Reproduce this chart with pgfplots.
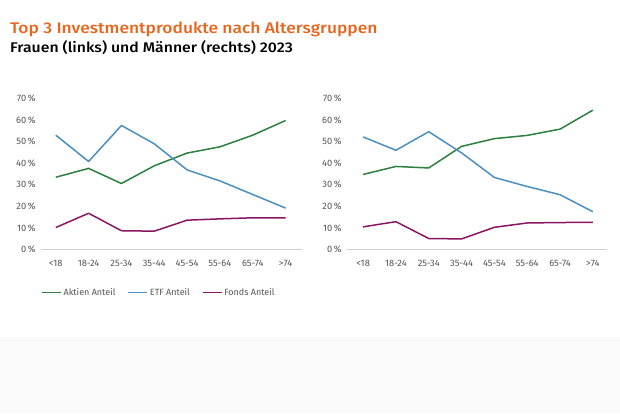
\documentclass[border=0pt]{standalone}
\usepackage{pgfplots}
\pgfplotsset{compat=1.18}
\usepackage{fontspec}
\setmainfont{Fira Sans}
\newfontfamily\titlefont{Fira Sans Medium}[FakeStretch=1.13]

\definecolor{ingorange}{HTML}{E8661D}
\definecolor{aktien}{HTML}{2E8040}
\definecolor{etf}{HTML}{4A90C0}
\definecolor{fonds}{HTML}{8A1662}
\definecolor{ticktext}{HTML}{555555}
\definecolor{band}{HTML}{FAFAFA}

\pgfplotsset{
  altersachse/.style={
    scale only axis,
    height=151pt,
    ymin=0, ymax=70,
    ytick={0,10,...,70},
    xtick={0,...,7},
    xticklabels={<18,18-24,25-34,35-44,45-54,55-64,65-74,>74},
    yticklabel={\pgfmathprintnumber{\tick}\,\%},
    /pgf/number format/assume math mode=true,
    axis x line*=bottom,
    axis y line*=left,
    y axis line style={draw=none},
    x axis line style={draw=black!18, line width=0.8pt},
    major tick length=0pt,
    tick label style={font=\fontsize{9.3}{11}\selectfont, text=ticktext},
    yticklabel style={xshift=-2pt},
    xticklabel style={yshift=-7pt},
    every axis plot/.append style={line width=1.5pt, mark=none, line join=round},
    clip=false,
  },
}

\begin{document}
\begin{tikzpicture}
\fill[white] (0pt,0pt) rectangle (620pt,413pt);
\fill[band] (0pt,0pt) rectangle (620pt,76pt);

\node[anchor=base west, inner sep=0, text=ingorange, font=\fontsize{15.4}{18}\selectfont\titlefont]
  at (10pt,379pt) {Top 3 Investmentprodukte nach Altersgruppen};
\node[anchor=base west, inner sep=0, text=black, font=\fontsize{14}{17}\selectfont\titlefont]
  at (10pt,360pt) {Frauen (links) und Männer (rechts) 2023};

% Frauen
\begin{axis}[altersachse,
  at={(41pt,163.5pt)}, anchor=south west,
  width=261pt, xmin=-0.45, xmax=7.5,
  legend columns=3,
  legend style={at={(0,-0.285)}, anchor=west, draw=none, fill=none,
    font=\fontsize{9}{10}\selectfont\color{ticktext}, inner sep=0pt,
    /tikz/every even column/.append style={column sep=10pt}},
  legend image code/.code={\draw[#1] (0pt,0pt) -- (19pt,0pt);},
]
\addplot[aktien] coordinates {(0,33.5)(1,37.6)(2,30.6)(3,38.8)(4,44.7)(5,47.6)(6,53.0)(7,59.8)};
\addlegendentry{Aktien Anteil}
\addplot[etf] coordinates {(0,53.0)(1,40.8)(2,57.5)(3,49.0)(4,36.9)(5,31.8)(6,25.5)(7,19.2)};
\addlegendentry{ETF Anteil}
\addplot[fonds] coordinates {(0,10.2)(1,16.8)(2,8.7)(3,8.5)(4,13.6)(5,14.2)(6,14.7)(7,14.7)};
\addlegendentry{Fonds Anteil}
\end{axis}

% Maenner
\begin{axis}[altersachse,
  at={(347pt,163.5pt)}, anchor=south west,
  width=260pt, xmin=-0.49, xmax=7.43,
]
\addplot[aktien] coordinates {(0,34.8)(1,38.5)(2,37.8)(3,47.8)(4,51.4)(5,52.9)(6,55.8)(7,64.6)};
\addplot[etf] coordinates {(0,52.2)(1,46.0)(2,54.6)(3,44.8)(4,33.4)(5,29.2)(6,25.4)(7,17.5)};
\addplot[fonds] coordinates {(0,10.5)(1,12.9)(2,5.1)(3,4.9)(4,10.3)(5,12.3)(6,12.5)(7,12.6)};
\end{axis}
\end{tikzpicture}
\end{document}
